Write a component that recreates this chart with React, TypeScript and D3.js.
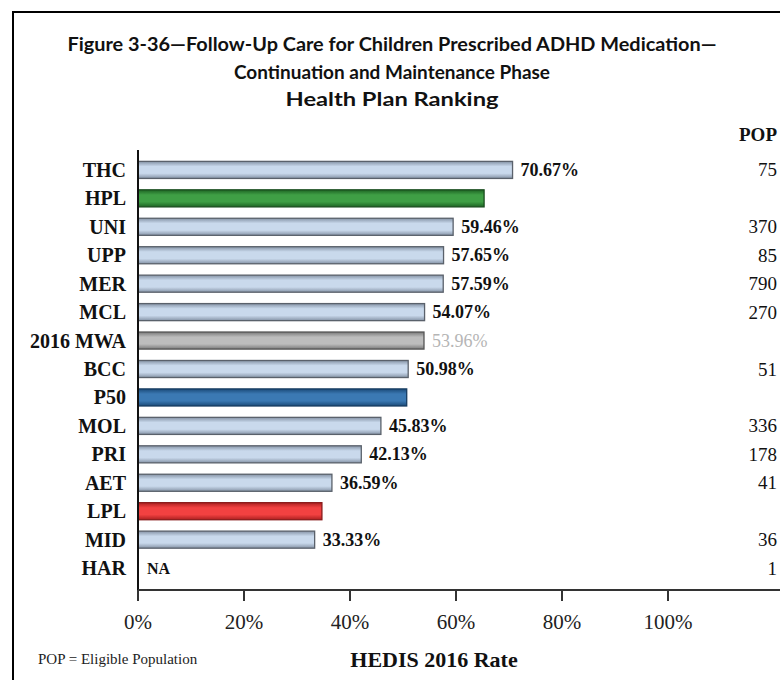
import React from "react";
import * as d3 from "d3";

const categories = ["THC", "HPL", "UNI", "UPP", "MER", "MCL", "2016 MWA", "BCC", "P50", "MOL", "PRI", "AET", "LPL", "MID", "HAR"];
const values: (number | null)[] = [70.67, 65.3, 59.46, 57.65, 57.59, 54.07, 53.96, 50.98, 50.7, 45.83, 42.13, 36.59, 34.7, 33.33, null];
const valueLabels: (string | null)[] = ["70.67%", null, "59.46%", "57.65%", "57.59%", "54.07%", "53.96%", "50.98%", null, "45.83%", "42.13%", "36.59%", null, "33.33%", "NA"];
const kinds = ["plan", "hpl", "plan", "plan", "plan", "plan", "mwa", "plan", "p50", "plan", "plan", "plan", "lpl", "plan", "plan"];
const pops: (string | null)[] = ["75", null, "370", "85", "790", "270", null, "51", null, "336", "178", "41", null, "36", "1"];
const ticks = [0, 20, 40, 60, 80, 100];
const titleLines = [
  "Figure 3-36\u2014Follow-Up Care for Children Prescribed ADHD Medication\u2014",
  "Continuation and Maintenance Phase",
  "Health Plan Ranking",
];

const palette: Record<string, { dark: string; light: string; stroke: string }> = {
  plan: { dark: "#8593a6", light: "#c9d9ec", stroke: "#5a616b" },
  hpl: { dark: "#1d6423", light: "#3f9f45", stroke: "#1a4d1e" },
  mwa: { dark: "#7a7a7a", light: "#bdbdbd", stroke: "#555" },
  p50: { dark: "#1b4a78", light: "#3b79b3", stroke: "#163b60" },
  lpl: { dark: "#ad2020", light: "#f24141", stroke: "#8a1a1a" },
};

export default function App() {
  const W = 780, H = 680;
  const x = d3.scaleLinear().domain([0, 100]).range([138, 668]);
  const y = d3.scaleBand<string>().domain(categories).range([150, 588]).padding(0.4);
  const bw = y.bandwidth();
  const serif = "'Liberation Serif', 'Times New Roman', serif";
  const sans = "Lato, 'Open Sans', sans-serif";
  const titleWidths = [649, 316, 213];
  const titleYs = [51, 79, 106];

  return (
    <svg width={W} height={H} style={{ position: "absolute", left: 0, top: 0, background: "#fff" }}>
      <defs>
        {Object.entries(palette).map(([k, c]) => (
          <linearGradient key={k} id={`g-${k}`} x1="0" y1="0" x2="0" y2="1">
            <stop offset="0%" stopColor={c.dark} />
            <stop offset="30%" stopColor={c.light} />
            <stop offset="70%" stopColor={c.light} />
            <stop offset="100%" stopColor={c.dark} />
          </linearGradient>
        ))}
      </defs>
      <rect x={0} y={0} width={W} height={H} fill="#fff" />
      <line x1={13} y1={12} x2={13} y2={H} stroke="#000" strokeWidth={2} />
      <line x1={12} y1={12} x2={W} y2={12} stroke="#000" strokeWidth={2} />

      {titleLines.map((t, i) => (
        <text key={i} x={392} y={titleYs[i]} textAnchor="middle" fontFamily={sans} fontWeight="bold" fontSize={19}
          textLength={titleWidths[i]} lengthAdjust="spacingAndGlyphs" fill="#111">{t}</text>
      ))}

      <text x={777} y={141} textAnchor="end" fontFamily={serif} fontWeight="bold" fontSize={19} fill="#111">POP</text>

      {categories.map((c, i) => {
        const cy = (y(c) as number) + bw / 2;
        const v = values[i];
        const k = kinds[i];
        const lbl = valueLabels[i];
        const end = v == null ? x(0) : x(v);
        return (
          <g key={c}>
            <text x={126} y={cy + 7} textAnchor="end" fontFamily={serif} fontWeight="bold" fontSize={20} fill="#111">{c}</text>
            {v != null && (
              <rect x={x(0)} y={y(c)} width={x(v) - x(0)} height={bw} fill={`url(#g-${k})`} stroke={palette[k].stroke} strokeWidth={1.3} />
            )}
            {lbl && (
              <text x={v == null ? x(0) + 9 : end + 8} y={cy + 6} fontFamily={serif} fontWeight={k === "mwa" ? "normal" : "bold"}
                fontSize={v == null ? 16 : 18} fill={k === "mwa" ? "#b5b5b5" : "#111"}>{lbl}</text>
            )}
            {pops[i] && (
              <text x={777} y={cy + 6.5} textAnchor="end" fontFamily={serif} fontSize={19} fill="#111">{pops[i]}</text>
            )}
          </g>
        );
      })}

      <line x1={x(0)} y1={150} x2={x(0)} y2={591} stroke="#111" strokeWidth={2} />
      <line x1={x(0)} y1={590} x2={W} y2={590} stroke="#333" strokeWidth={2} />
      {ticks.map((t) => (
        <g key={t}>
          <line x1={x(t)} y1={590} x2={x(t)} y2={601} stroke="#333" strokeWidth={2} />
          <text x={x(t)} y={629} textAnchor="middle" fontFamily={serif} fontSize={21} fill="#222">{`${t}%`}</text>
        </g>
      ))}

      <text x={38} y={664} fontFamily={serif} fontSize={15} fill="#222">POP = Eligible Population</text>
      <text x={434} y={667} textAnchor="middle" fontFamily={serif} fontWeight="bold" fontSize={22} fill="#111">HEDIS 2016 Rate</text>
    </svg>
  );
}
